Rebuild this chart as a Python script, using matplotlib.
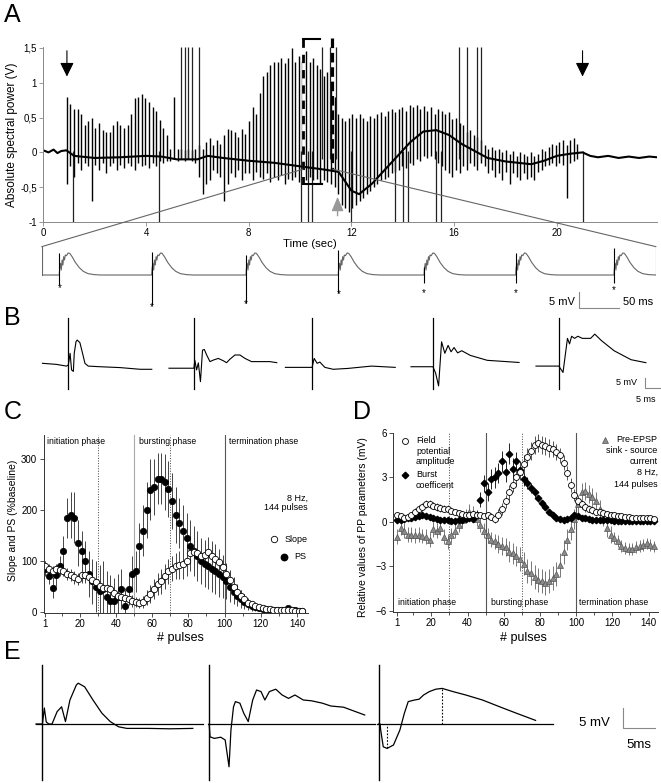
import numpy as np
import matplotlib
matplotlib.use('Agg')
import matplotlib.pyplot as plt
from matplotlib.patches import ConnectionPatch

plt.rcParams['font.family'] = ['Liberation Sans', 'DejaVu Sans']

# ---------------- data ----------------
# Panel A: spectral power trace (time in s, volts)
base_t = [0, 0.2, 0.4, 0.55, 0.7, 0.9, 1.2, 2.0, 3.0, 4.0, 4.6, 5.2, 6.0, 6.4, 7.0, 8.0, 9.0,
          10.0, 11.0, 11.5, 12.0, 12.3, 12.8, 13.3, 13.8, 14.3, 14.8, 15.3, 15.8, 16.3, 16.8,
          17.3, 18.0, 18.5, 19.0, 19.5, 20.0, 20.5, 21.0, 21.3, 21.6, 22.0, 22.4, 22.8, 23.2,
          23.6, 23.9]
base_v = [0.03, 0.0, 0.04, -0.01, 0.02, 0.03, -0.05, -0.08, -0.07, -0.05, -0.06, -0.10, -0.10,
          -0.05, -0.08, -0.12, -0.15, -0.20, -0.25, -0.28, -0.55, -0.60, -0.45, -0.25, -0.05,
          0.15, 0.30, 0.32, 0.25, 0.12, 0.02, -0.08, -0.13, -0.15, -0.17, -0.12, -0.05, -0.02,
          0.00, -0.05, -0.07, -0.05, -0.08, -0.06, -0.08, -0.06, -0.07]

PULSE_START = 0.92
PULSE_STEP = 0.139
pulse_top = [0.80, 0.70, 0.63, 0.62, 0.55, 0.40, 0.45, 0.50, 0.35, 0.42, 0.32, 0.30,
             0.30, 0.40, 0.45, 0.40, 0.35, 0.40, 0.55, 0.78, 0.80, 0.84, 0.78, 0.72,
             0.65, 0.60, 0.46, 0.35, 0.25, 0.05, 0.80, 0.05, 0.05, 0.03, 0.05, 0.03,
             0.05, 0.10, 0.05, 0.15, 0.20, 0.10, 0.18, 0.12, 0.25, 0.34, 0.32, 0.30,
             0.22, 0.33, 0.27, 0.45, 0.65, 0.55, 0.85, 1.10, 1.15, 1.25, 1.30, 1.30,
             1.35, 1.28, 1.35, 1.50, 1.30, 1.38, 1.32, 1.45, 1.30, 1.35, 1.25, 1.20,
             1.10, 1.15, 1.00, 0.80, 0.55, 0.50, 0.45, 0.50, 0.55, 0.50, 0.55, 0.50,
             0.45, 0.52, 0.50, 0.55, 0.58, 0.52, 0.60, 0.62, 0.58, 0.62, 0.65, 0.60,
             0.68, 0.65, 0.68, 0.62, 0.66, 0.60, 0.65, 0.55, 0.62, 0.60, 0.55, 0.58,
             0.48, 0.50, 0.42, 0.40, 0.30, 0.32, 0.25, 0.22, 0.18, 0.10, 0.05, 0.08,
             0.03, 0.05, 0.00, 0.03, -0.02, 0.02, -0.05, 0.00, -0.03, -0.05, 0.00, -0.05,
             -0.02, 0.05, 0.02, 0.08, 0.12, 0.10, 0.15, 0.18, 0.10, 0.18, 0.20, 0.12]
pulse_bottom = [-0.45, -0.20, -0.35, -0.15, -0.25, -0.15, -0.20, -0.70, -0.18, -0.25, -0.15, -0.30,
                -0.20, -0.15, -0.25, -0.18, -0.22, -0.15, -0.20, -0.25, -0.15, -0.20, -0.18, -0.22,
                -0.15, -0.20, -0.12, -0.15, -0.12, -0.12, -0.10, -0.12, -0.10, -0.12, -0.10, -0.12,
                -0.15, -0.35, -0.60, -0.45, -0.40, -0.25, -0.30, -0.35, -0.70, -0.45, -0.30, -0.35,
                -0.25, -0.40, -0.30, -0.30, -0.40, -0.28, -0.35, -0.38, -0.30, -0.42, -0.35, -0.40,
                -0.32, -0.45, -0.38, -0.40, -0.35, -0.42, -0.38, -0.40, -0.35, -0.40, -0.38, -0.45,
                -0.40, -0.42, -0.45, -0.50, -0.60, -0.75, -0.80, -0.85, -0.80, -0.75, -0.70, -0.65,
                -0.60, -0.55, -0.50, -0.45, -0.40, -0.38, -0.35, -0.30, -0.28, -0.25, -0.20, -0.22,
                -0.15, -0.18, -0.10, -0.12, -0.05, -0.08, -0.05, -0.10, -0.15, -0.20, -0.25, -0.30,
                -0.35, -0.25, -0.30, -0.20, -0.25, -0.15, -0.20, -0.25, -0.15, -0.20, -0.30, -0.25,
                -0.35, -0.30, -0.40, -0.28, -0.45, -0.30, -0.35, -0.40, -0.30, -0.38, -0.35, -0.40,
                -0.28, -0.25, -0.20, -0.18, -0.15, -0.20, -0.15, -0.18, -0.66, -0.15, -0.12, -0.10]
clip_up_t = [5.36, 5.52, 5.64, 5.79, 6.05, 10.87, 11.15, 11.38, 16.2, 16.5, 16.9, 17.05]
clip_down_t = [1.17, 4.5, 10.05, 10.3, 10.45, 12.0, 13.7, 14.0, 14.2, 15.3, 15.5, 21.0]
arrow_t = [0.92, 21.0]

# Panel A inset: single evoked response template (ms after stimulus, mV)
inset_stim_ms = [22, 137.5, 255.4, 370.8, 478, 592.5, 715.4]
inset_art_up = [6.7, 7.0, 6.0, 7.5, 2.5, 6.6, 8.1]
inset_art_down = [3.0, 9.0, 8.4, 5.4, 2.5, 2.5, 2.5]
inset_star = [4.0, 9.6, 8.6, 5.6, 5.4, 5.4, 4.6]
wave_ms = [0, 0.5, 1.5, 2.5, 3.5, 4.5, 5.5, 6.5, 7.5, 9, 11, 13, 16, 20, 25, 30, 36, 44, 52]
wave_mv = [0, 2, 3.5, 1.5, 4.5, 3, 5.5, 4.5, 6, 5.8, 6.6, 6.5, 5.5, 3.8, 2.2, 1.1, 0.4, 0.1, 0]

# Panel B: five single responses (ms rel. stimulus, mV)
b_stim_ms = [12.9, 55.2, 95.0, 135.7, 178.1]
b_ms = [
    [-8.7, -4, -0.6, 0, 0.6, 1.1, 1.7, 2.0, 2.6, 3.0, 3.9, 4.8, 5.6, 6.7, 10.7, 17.4, 24.2, 28.1],
    [-8.4, -2, 0, 0.3, 0.9, 1.5, 2.2, 2.9, 3.5, 4.3, 5.4, 6.5, 8.2, 9.9, 11, 12.1, 13.8, 15.5,
     17.2, 19.4, 22.2, 25.6, 27.9],
    [-9, -3, 0, 0.7, 1.7, 2.6, 4.3, 7.1, 12, 20, 28],
    [-7.4, -2, 0, 0.9, 1.9, 2.9, 4.0, 5.1, 6.1, 7.1, 8.3, 9.7, 12.6, 18.3, 29],
    [-7.7, -2, 0, 1.4, 2.9, 3.6, 4.3, 5.3, 6.4, 7.9, 10.7, 12.1, 14.3, 18.6, 24.3, 29.3],
]
b_mv = [
    [0.8, 0.3, -0.5, 0, 5.5, -2.3, -3.0, 5.5, 11.0, 11.7, 10.5, 5.5, 0.8, -0.5, -0.8, -1.2, -2.0, -2.0],
    [-1.5, -1.5, -1.5, 2.3, -2.3, 1.0, -7.8, 7.0, 7.3, 4.7, 1.6, 2.3, 3.1, 2.0, 1.1, 2.7, 4.7, 4.7,
     3.1, 1.6, 1.6, 1.6, 1.1],
    [-1.1, -1.1, -1.1, 3.1, 0.8, 1.4, -1.1, -2.0, -1.6, -0.5, -1.1],
    [-0.8, -0.8, -0.8, -3.8, -9.8, 10.9, 5.5, 9.2, 6.2, 8.2, 5.7, 6.7, 4.5, 2.2, 1.2],
    [-0.5, -0.5, -0.5, -3.5, 12.5, 9.9, 13.5, 12.5, 13.5, 12.5, 12.5, 14.5, 11.5, 6.7, 2.5, 1.1],
]

# Panels C and D: every second pulse
pulses = np.arange(1, 145, 2)
ps_mean = [85, 70, 48, 72, 90, 120, 185, 190, 185, 135, 120, 100, 75, 60, 50,
           42, 45, 30, 22, 22, 30, 45, 12, 45, 75, 80, 130, 160, 200, 240,
           245, 262, 262, 255, 242, 218, 190, 175, 160, 145, 130, 120, 110, 100, 95,
           90, 85, 80, 75, 68, 60, 50, 40, 32, 25, 20, 15, 12, 10, 8,
           6, 5, 4, 3, 3, 3, 4, 8, 4, 3, 2, 2]
ps_err = [15, 15, 20, 20, 20, 30, 40, 45, 50, 45, 40, 40, 45, 45, 50,
          50, 55, 50, 50, 45, 45, 40, 35, 30, 35, 40, 45, 50, 55, 60,
          55, 50, 50, 55, 55, 55, 55, 50, 50, 50, 50, 50, 50, 45, 45,
          45, 45, 45, 45, 40, 35, 30, 25, 20, 18, 15, 12, 10, 8, 6,
          5, 4, 4, 3, 3, 3, 3, 4, 3, 3, 2, 2]
slope_mean = [90, 85, 80, 85, 82, 80, 75, 72, 68, 65, 72, 72, 68, 62, 58,
              52, 48, 48, 45, 38, 32, 30, 28, 25, 22, 20, 18, 20, 28, 35,
              45, 55, 60, 70, 80, 85, 90, 92, 95, 100, 115, 118, 115, 110, 112,
              118, 110, 105, 98, 88, 75, 62, 50, 40, 32, 25, 18, 15, 12, 10,
              8, 6, 5, 4, 4, 3, 3, 3, 3, 2, 2, 2]
slope_err = [10, 10, 10, 10, 10, 10, 12, 12, 12, 12, 15, 15, 15, 15, 15,
             15, 15, 15, 15, 15, 12, 12, 12, 12, 12, 10, 10, 12, 15, 18,
             20, 22, 25, 25, 25, 25, 25, 28, 30, 30, 30, 30, 30, 30, 30,
             30, 30, 28, 25, 25, 22, 20, 18, 15, 12, 10, 8, 6, 5, 4,
             3, 3, 3, 2, 2, 2, 2, 2, 2, 2, 2, 2]

field_mean = [0.5, 0.4, 0.3, 0.35, 0.5, 0.7, 0.9, 1.0, 1.2, 1.2, 1.1, 1.0, 0.95, 0.9, 0.9,
              0.75, 0.7, 0.6, 0.55, 0.5, 0.5, 0.55, 0.5, 0.45, 0.4, 0.45, 0.35, 0.2, 0.5, 0.9,
              1.4, 2.0, 2.5, 3.0, 3.4, 3.9, 4.4, 4.8, 5.2, 5.3, 5.2, 5.1, 5.0, 4.9, 4.7,
              4.5, 4.0, 3.3, 2.5, 1.8, 1.4, 1.2, 1.0, 0.9, 0.8, 0.7, 0.65, 0.6, 0.55, 0.5,
              0.45, 0.4, 0.4, 0.35, 0.35, 0.3, 0.3, 0.3, 0.3, 0.25, 0.25, 0.2]
field_err = [0.2, 0.2, 0.2, 0.2, 0.2, 0.25, 0.25, 0.25, 0.25, 0.25, 0.25, 0.25, 0.25, 0.25, 0.25,
             0.2, 0.2, 0.2, 0.2, 0.2, 0.2, 0.2, 0.2, 0.2, 0.2, 0.25, 0.25, 0.3, 0.35, 0.4,
             0.45, 0.5, 0.5, 0.55, 0.55, 0.6, 0.6, 0.6, 0.6, 0.6, 0.6, 0.6, 0.6, 0.55, 0.55,
             0.5, 0.5, 0.5, 0.45, 0.4, 0.35, 0.3, 0.3, 0.25, 0.25, 0.2, 0.2, 0.2, 0.2, 0.2,
             0.15, 0.15, 0.15, 0.15, 0.15, 0.15, 0.15, 0.15, 0.15, 0.15, 0.15, 0.15]
burst_mean = [0.1, 0.15, 0.2, 0.25, 0.3, 0.35, 0.4, 0.45, 0.4, 0.35, 0.25, 0.2, 0.15, 0.1, 0.1,
              0.05, 0.05, 0.1, 0.15, 0.2, 0.3, 0.2, 0.5, 1.5, 2.6, 2.0, 2.9, 3.0, 3.3, 4.1,
              3.4, 4.6, 3.6, 4.1, 3.5, 2.9, 2.6, 2.3, 2.0, 1.6, 1.3, 1.0, 0.7, 0.45, 0.3,
              0.2, 0.15, 0.2, 0.3, 0.45, 0.4, 0.3, 0.25, 0.2, 0.15, 0.15, 0.12, 0.1, 0.1, 0.1,
              0.08, 0.08, 0.08, 0.06, 0.06, 0.06, 0.05, 0.05, 0.05, 0.05, 0.05, 0.05]
burst_err = [0.1, 0.1, 0.1, 0.1, 0.1, 0.1, 0.1, 0.1, 0.1, 0.1, 0.1, 0.1, 0.1, 0.1, 0.1,
             0.1, 0.1, 0.1, 0.1, 0.1, 0.15, 0.2, 0.3, 0.5, 0.6, 0.6, 0.7, 0.7, 0.7, 0.7,
             0.7, 0.7, 0.7, 0.6, 0.6, 0.5, 0.4, 0.35, 0.3, 0.25, 0.2, 0.2, 0.15, 0.15, 0.1,
             0.1, 0.1, 0.1, 0.1, 0.1, 0.1, 0.1, 0.1, 0.1, 0.1, 0.1, 0.1, 0.1, 0.1, 0.1,
             0.1, 0.1, 0.1, 0.1, 0.1, 0.1, 0.1, 0.1, 0.1, 0.1, 0.1, 0.1]
epsp_mean = [-1.0, -0.4, -0.6, -0.85, -0.85, -0.9, -0.85, -0.95, -1.0, -1.2, -0.5, -0.6, -0.4, -1.0, -1.3,
             -0.9, -0.6, -0.2, 0.1, 0.4, 0.7, 0.6, 0.2, -0.2, -0.6, -0.9, -1.2, -1.3, -1.5, -1.6,
             -1.7, -2.0, -2.1, -2.3, -2.5, -2.8, -3.3, -3.45, -3.7, -3.9, -4.0, -4.1, -4.0, -3.8, -3.5,
             -2.9, -2.0, -1.2, -0.5, 0.2, 1.2, 2.0, 2.1, 1.9, 1.7, 1.4, 0.9, 0.3, -0.4, -0.85,
             -1.1, -1.3, -1.6, -1.75, -1.8, -1.8, -1.7, -1.6, -1.55, -1.45, -1.55, -1.65]
epsp_err = [0.5, 0.5, 0.5, 0.5, 0.5, 0.5, 0.5, 0.5, 0.5, 0.5, 0.5, 0.5, 0.5, 0.5, 0.5,
            0.5, 0.5, 0.5, 0.5, 0.5, 0.5, 0.5, 0.5, 0.5, 0.5, 0.5, 0.5, 0.5, 0.6, 0.6,
            0.6, 0.7, 0.7, 0.7, 0.8, 0.8, 0.8, 0.8, 0.8, 0.8, 0.8, 0.8, 0.8, 0.8, 0.8,
            0.8, 0.8, 0.7, 0.7, 0.7, 0.6, 0.6, 0.6, 0.6, 0.6, 0.6, 0.6, 0.6, 0.6, 0.6,
            0.4, 0.4, 0.4, 0.4, 0.4, 0.4, 0.4, 0.4, 0.4, 0.4, 0.4, 0.4]
phase_names = ['initiation phase', 'bursting phase', 'termination phase']
phase_start = [1.8, 52.9, 102.3]

# Panel E: three responses (ms rel. stimulus, mV)
e_stim_ms = [1.94, 28.0, 54.5]
e_base_from = [0.94, 27.75, 54.2]
e_base_to = [27.0, 53.9, 81.7]
e_ms = [
    [-1, 0, 0.3, 0.6, 1.0, 1.5, 2.3, 3.0, 3.6, 4.3, 5.3, 5.6, 6.6, 7.9, 9.3, 10.6, 11.9, 13.2,
     16.6, 19.9, 23.5],
    [0, 0.13, 0.8, 1.8, 2.5, 3.1, 3.4, 3.8, 4.1, 4.8, 5.4, 6.1, 6.8, 7.4, 8.1, 8.7, 9.4, 10.4,
     11.4, 12.4, 13.4, 14.7, 16.0, 17.7, 19.0, 21.0, 24.3],
    [0, 0.2, 0.3, 0.7, 1.3, 2.3, 3.3, 4.0, 4.6, 5.6, 6.3, 7.0, 7.9, 8.9, 9.9, 11.6, 13.6, 16.2,
     18.9, 21.5, 24.5],
]
e_mv = [
    [0, 0, 4, 0.5, 0, 0, 3.1, 4.3, 0.6, 6.0, 9.75, 10.2, 9.3, 6.0, 2.7, 0.6, -0.7, -1.1,
     -1.1, -1.2, -1.1],
    [0, -3.2, -3.6, -3.3, -4.0, -10.7, -1.5, 4.3, 5.6, 5.2, 2.7, 0.6, 6.0, 8.5, 8.1, 6.0, 8.1, 8.7,
     7.25, 6.4, 7.25, 6.0, 5.8, 5.2, 4.5, 4.2, 2.25],
    [0, 0, -1.5, -5.7, -6.1, -5.25, -1.5, 2.7, 5.6, 6.0, 6.2, 7.25, 8.1, 8.7, 8.9, 8.1, 7.25, 6.0,
     4.3, 2.7, 0.9],
]

# ---------------- figure ----------------
W, H = 661, 783
fig = plt.figure(figsize=(W / 100, H / 100), dpi=100)


def px_axes(left, top, right, bottom):
    return fig.add_axes([left / W, 1 - bottom / H, (right - left) / W, (bottom - top) / H])


def fig_text(x, y, s, **kw):
    fig.text(x / W, 1 - y / H, s, **kw)


def open_axes(ax, col='#333'):
    for s in ['top', 'right']:
        ax.spines[s].set_visible(False)
    for s in ['left', 'bottom']:
        ax.spines[s].set_color(col)
        ax.spines[s].set_linewidth(0.7)
    ax.tick_params(which='both', direction='out', color=col, width=0.6, labelsize=7, pad=1.5)
    ax.tick_params(which='major', length=3)
    ax.tick_params(which='minor', length=2)


for lab, x, y in [('A', 4, 3), ('B', 4, 306), ('C', 4, 400), ('D', 353, 400), ('E', 4, 640)]:
    fig_text(x, y, lab, fontsize=18, va='top', ha='left')

# ---- A ----
axA = px_axes(43.3, 46.6, 657, 222)
axA.set_xlim(0, 23.9)
axA.set_ylim(-1, 1.52)
open_axes(axA, '#888')
axA.set_xticks([0, 4, 8, 12, 16, 20])
axA.set_yticks([-1, -0.5, 0, 0.5, 1, 1.5])
axA.set_yticklabels(['-1', '-0,5', '0', '0,5', '1', '1,5'])
pulse_t = PULSE_START + np.arange(len(pulse_top)) * PULSE_STEP
axA.vlines(pulse_t, pulse_bottom, pulse_top, color='k', lw=1.0)
axA.vlines(clip_up_t, -0.1, 1.52, color='#222', lw=0.9)
axA.vlines(clip_down_t, -1, 0.02, color='#222', lw=0.9)
axA.plot(base_t, base_v, color='k', lw=1.5)
for t in arrow_t:
    axA.annotate('', xy=(t, 1.05), xytext=(t, 1.5),
                 arrowprops=dict(arrowstyle='-|>,head_width=0.42,head_length=0.85',
                                 color='k', lw=0.8))
axA.annotate('', xy=(11.46, -0.6), xytext=(11.46, -0.95),
             arrowprops=dict(arrowstyle='-|>,head_width=0.36,head_length=0.85',
                             color='#999', lw=1))
# dashed bracket marking the enlarged stretch
axA.plot([10.12, 10.12], [1.63, -0.45], color='white', lw=2, clip_on=False)
axA.plot([10.12, 10.12], [1.63, -0.45], color='k', lw=2, ls=(0, (3, 2.5)), clip_on=False)
axA.plot([10.12, 10.77], [1.63, 1.63], color='k', lw=1.5, clip_on=False)
axA.plot([10.12, 10.84], [-0.45, -0.45], color='k', lw=1.5, clip_on=False)
axA.plot([11.26, 11.26], [1.65, -0.25], color='k', lw=2.3, ls=(0, (3, 1.5)), clip_on=False)
fig_text(12, 135, 'Absolute spectral power (V)', rotation=90, fontsize=8.5, ha='center', va='center')
fig_text(310, 244, 'Time (sec)', fontsize=8.2, ha='center', va='center')

# ---- A inset ----
axI = px_axes(41.7, 240, 656, 312)
axI.set_xlim(0, 768)
axI.set_ylim(-11.1, 10.5)
axI.axis('off')
ix, iy = [0], [0]
for s in inset_stim_ms:
    ix += [s + m for m in wave_ms]
    iy += wave_mv
ix.append(768)
iy.append(0)
axI.plot(ix, iy, color='#666', lw=0.8)
axI.vlines(inset_stim_ms, [-d for d in inset_art_down], inset_art_up, color='k', lw=0.8)
for s, st in zip(inset_stim_ms, inset_star):
    axI.text(s, -st, '*', fontsize=7, ha='center', va='center')
axI.plot([0, 0], [0, 8.5], color='#666', lw=0.8)
axI.plot([768, 768], [0, 8.5], color='#666', lw=0.8)
for xa, xi in [(10.12, 0), (11.26, 768)]:
    con = ConnectionPatch(xyA=(xa, -0.24), coordsA=axA.transData, xyB=(xi, 8.5),
                          coordsB=axI.transData, color='#666', lw=0.8)
    fig.add_artist(con)
axI.plot([672, 672, 722], [-5, -10, -10], color='#888', lw=0.8, clip_on=False)
axI.text(666, -8.2, '5 mV', fontsize=8, ha='right', va='center')
axI.text(727, -8.2, '50 ms', fontsize=8, ha='left', va='center')

# ---- B ----
axB = px_axes(30, 310, 661, 400)
axB.set_xlim(0, 212.5)
axB.set_ylim(-16.4, 25.8)
axB.axis('off')
for s, ms, mv in zip(b_stim_ms, b_ms, b_mv):
    axB.plot([s + m for m in ms], mv, color='k', lw=0.8)
    axB.plot([s, s], [-11.4, 21.9], color='k', lw=0.9)
axB.plot([207, 207, 212], [-6, -11, -11], color='#888', lw=0.8, clip_on=False)
axB.text(204.5, -8.2, '5 mV', fontsize=6.5, ha='right', va='center')
axB.text(207.5, -16, '5 ms', fontsize=6.5, ha='center', va='center')

# ---- C ----
axC = px_axes(43.5, 435, 307.8, 613)
axC.set_xlim(0, 146)
axC.set_ylim(-2, 348)
open_axes(axC)
axC.set_xticks([1, 20, 40, 60, 80, 100, 120, 140])
axC.set_xticks([10, 30, 50, 70, 90, 110, 130], minor=True)
axC.set_yticks([0, 100, 200, 300])
axC.axvline(30, color='#444', lw=0.7, ls=':')
axC.axvline(70, color='#444', lw=0.7, ls=':')
axC.axvline(50, color='#aaa', lw=0.8)
axC.axvline(100, color='#555', lw=0.8)
axC.errorbar(pulses, ps_mean, yerr=ps_err, fmt='none', ecolor='#444', elinewidth=0.7)
axC.errorbar(pulses, slope_mean, yerr=slope_err, fmt='none', ecolor='#444', elinewidth=0.7)
axC.plot(pulses, ps_mean, 'o', ms=4.6, mfc='k', mec='k', mew=0.5)
axC.plot(pulses, slope_mean, 'o', ms=4.6, mfc='white', mec='k', mew=0.6)
for name, p in zip(phase_names, phase_start):
    axC.text(p, 335, name, fontsize=6.2, ha='left', va='center')
axC.text(146, 224, '8 Hz,', fontsize=6.5, ha='right', va='center')
axC.text(146, 206, '144 pulses', fontsize=6.5, ha='right', va='center')
axC.plot([127.4], [143], 'o', ms=4.6, mfc='white', mec='k', mew=0.6, clip_on=False)
axC.text(133.4, 143, 'Slope', fontsize=6.5, ha='left', va='center')
axC.plot([132.9], [109], 'o', ms=4.6, mfc='k', mec='k', clip_on=False)
axC.text(138.4, 109, 'PS', fontsize=6.5, ha='left', va='center')
fig_text(13, 520, 'Slope and PS (%baseline)', rotation=90, fontsize=7.5, ha='center', va='center')
fig_text(180, 638, '# pulses', fontsize=9, ha='center', va='center')

# ---- D ----
axD = px_axes(393.3, 433, 658, 611.7)
axD.set_xlim(-1.05, 145.2)
axD.set_ylim(-6.05, 6.0)
open_axes(axD)
axD.set_xticks([1, 20, 40, 60, 80, 100, 120, 140])
axD.set_xticks([10, 30, 50, 70, 90, 110, 130], minor=True)
axD.set_yticks([-6, -3, 0, 3, 6])
axD.axvline(30, color='#444', lw=0.7, ls=':')
axD.axvline(70, color='#444', lw=0.7, ls=':')
axD.axvline(50, color='#555', lw=0.8)
axD.axvline(100, color='#555', lw=0.8)
axD.errorbar(pulses, epsp_mean, yerr=epsp_err, fmt='none', ecolor='#777', elinewidth=0.7)
axD.errorbar(pulses, burst_mean, yerr=burst_err, fmt='none', ecolor='#222', elinewidth=0.7)
axD.errorbar(pulses, field_mean, yerr=field_err, fmt='none', ecolor='#555', elinewidth=0.7)
axD.plot(pulses, epsp_mean, '^', ms=4.3, mfc='#8a8a8a', mec='#555', mew=0.5)
axD.plot(pulses, burst_mean, 'D', ms=3.3, mfc='k', mec='k')
axD.plot(pulses, field_mean, 'o', ms=4.3, mfc='white', mec='k', mew=0.6)
for name, p in zip(phase_names, [1.7, 52.9, 101.5]):
    axD.text(p, -5.46, name, fontsize=6.2, ha='left', va='center')
axD.plot([5.4], [5.48], 'o', ms=4.3, mfc='white', mec='k', mew=0.6, clip_on=False)
for line, v in zip(['Field', 'potential', 'amplitude'], [5.48, 4.74, 4.07]):
    axD.text(11.5, v, line, fontsize=6.5, ha='left', va='center')
axD.plot([5.4], [3.17], 'D', ms=3.3, mfc='k', mec='k', clip_on=False)
for line, v in zip(['Burst', 'coefficent'], [3.17, 2.43]):
    axD.text(11.5, v, line, fontsize=6.5, ha='left', va='center')
axD.plot([115.9], [5.53], '^', ms=4.3, mfc='#8a8a8a', mec='#555', mew=0.5, clip_on=False)
for line, v in zip(['Pre-EPSP', 'sink - source', 'current', '8 Hz,', '144 pulses'],
                   [5.53, 4.81, 4.07, 3.32, 2.56]):
    axD.text(145, v, line, fontsize=6.5, ha='right', va='center')
fig_text(363, 527, 'Relative values of PP parameters (mV)', rotation=90, fontsize=7.5,
         ha='center', va='center')
fig_text(523, 638, '# pulses', fontsize=9, ha='center', va='center')

# ---- E ----
axE = px_axes(30, 655, 661, 783)
axE.set_xlim(0, 98.6)
axE.set_ylim(-14.75, 17.25)
axE.axis('off')
for s, b0, b1, ms, mv in zip(e_stim_ms, e_base_from, e_base_to, e_ms, e_mv):
    axE.plot([b0, b1], [0, 0], color='k', lw=0.9)
    axE.plot([s, s], [-14, 14.75], color='k', lw=1.0)
    axE.plot([s + m for m in ms], mv, color='k', lw=0.9)
axE.plot([e_stim_ms[2] + 1.3] * 2, [-6.1, 0], color='k', lw=0.8, ls=(0, (1.5, 1.5)))
axE.plot([e_stim_ms[2] + 9.9] * 2, [0, 8.9], color='k', lw=0.8, ls=(0, (1.5, 1.5)))
axE.plot([92.7, 92.7, 97.7], [4, -1, -1], color='#888', lw=0.8)
axE.text(90.6, 0.3, '5 mV', fontsize=9.5, ha='right', va='center')
axE.text(95.2, -5.3, '5ms', fontsize=9.5, ha='center', va='center')

fig.savefig('out.png', dpi=100)
